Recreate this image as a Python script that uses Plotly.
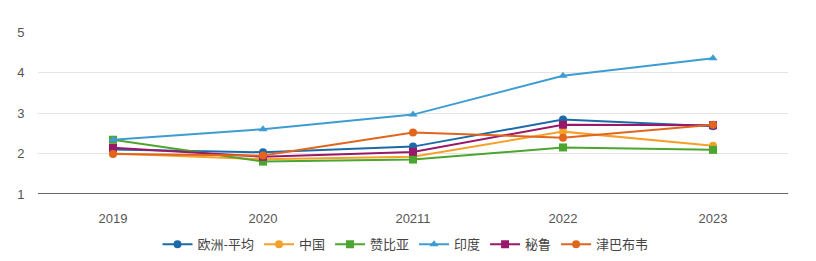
import plotly.graph_objects as go

categories = ["2019", "2020", "20211", "2022", "2023"]
series_names = ["欧洲-平均", "中国", "赞比亚", "印度", "秘鲁", "津巴布韦"]
europe = [2.10, 2.03, 2.17, 2.84, 2.67]
china = [2.00, 1.86, 1.92, 2.54, 2.19]
zambia = [2.34, 1.80, 1.85, 2.15, 2.09]
india = [2.34, 2.60, 2.96, 3.92, 4.35]
peru = [2.14, 1.92, 2.04, 2.71, 2.70]
zimbabwe = [1.99, 1.95, 2.52, 2.39, 2.71]
y_ticks = [1, 2, 3, 4, 5]

values = [europe, china, zambia, india, peru, zimbabwe]
colors = ["#1c6aa8", "#f4a12a", "#4ba52f", "#3f9cd2", "#98186a", "#e0661e"]
symbols = ["circle", "circle", "square", "triangle-up", "square", "circle"]

fig = go.Figure()
for name, vals, c, s in zip(series_names, values, colors, symbols):
    fig.add_trace(go.Scatter(
        x=categories, y=vals, name=name, mode="lines+markers",
        line=dict(color=c, width=2),
        marker=dict(color=c, symbol=s, size=8),
    ))

fig.update_layout(
    width=816, height=261,
    margin=dict(l=38, r=28, t=32, b=67, autoexpand=False),
    paper_bgcolor="white", plot_bgcolor="white",
    font=dict(family="Liberation Sans, Noto Sans CJK SC, sans-serif", color="#555555", size=12),
    showlegend=True,
    legend=dict(orientation="h", x=0.49, xanchor="center", y=-0.31, yanchor="middle",
                font=dict(size=13, color="#444444", family="Noto Sans CJK SC, sans-serif"),
                itemwidth=30, tracegroupgap=0),
    xaxis=dict(type="category", range=[-0.5, 4.5], showgrid=False, showline=False,
               ticks="outside", ticklen=12, tickcolor="rgba(0,0,0,0)",
               tickfont=dict(size=13, color="#555555")),
    yaxis=dict(range=[1, 5], tickvals=y_ticks, showgrid=True, gridcolor="#e4e4e4",
               gridwidth=1, zeroline=False, showline=False,
               ticks="outside", ticklen=10, tickcolor="rgba(0,0,0,0)",
               tickfont=dict(size=13, color="#555555")),
)
fig.add_shape(type="line", xref="paper", yref="y", x0=0, x1=1, y0=1, y1=1,
              line=dict(color="#333333", width=1.5))

fig.write_html("out.html")
